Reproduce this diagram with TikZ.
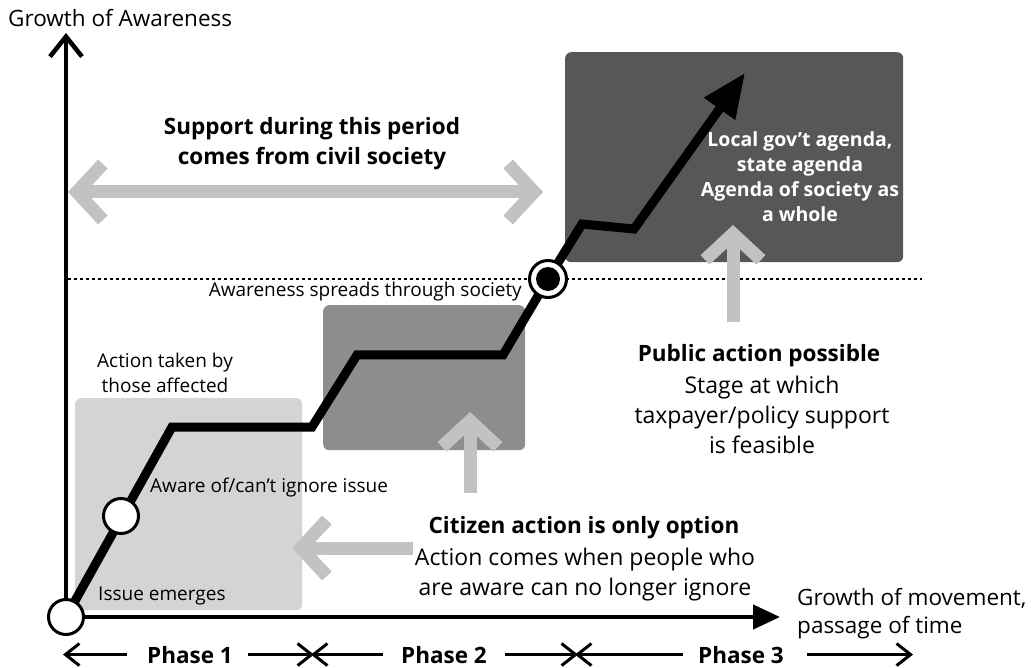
\documentclass[tikz,border=0pt]{standalone}
\usepackage{fontspec}
\setmainfont{Open Sans}
\usetikzlibrary{arrows.meta,positioning}
\definecolor{awlight}{RGB}{212,212,212}
\definecolor{awmid}{RGB}{141,141,141}
\definecolor{awdark}{RGB}{87,87,87}
\definecolor{awarrow}{RGB}{194,194,194}

\begin{document}
\begin{tikzpicture}[x=1pt, y=-1pt,
    stagebox/.style={rectangle, rounded corners=6pt, anchor=north west, inner sep=0pt},
    axisline/.style={line width=4.5pt},
    growth/.style={line width=9pt, line join=miter, -{Triangle[length=44pt, width=36pt]}},
    garr/.style={draw=awarrow, line width=13pt, >={Straight Barb[sharp, length=26pt, width=56pt]}},
    phasearr/.style={line width=3pt, ->, >={Straight Barb[length=14pt, width=22pt]}},
    smalltxt/.style={font=\fontsize{19}{25}\selectfont, inner sep=0pt, align=center},
    bodytxt/.style={font=\fontsize{23}{30}\selectfont, inner sep=0pt, align=center},
    headtxt/.style={font=\fontsize{22.5}{30}\selectfont\bfseries, inner sep=0pt, align=center},
    milestone/.style={circle, draw, line width=3pt, fill=white, minimum size=35pt, inner sep=0pt}
  ]
    \useasboundingbox (0,0) rectangle (1031,668);

    % Stage boxes
    \node[stagebox, fill=awlight, minimum width=227pt, minimum height=212pt] (stage1) at (75,398) {};
    \node[stagebox, fill=awmid,   minimum width=202pt, minimum height=145pt] (stage2) at (323,305) {};
    \node[stagebox, fill=awdark,  minimum width=338pt, minimum height=210pt] (stage3) at (565,52) {};

    % Threshold line
    \coordinate (thr0) at (68,279);
    \coordinate (thr1) at (922,279);
    \draw[line width=1.8pt, dash pattern=on 3pt off 3pt] (thr0) -- (thr1);

    % Path points
    \coordinate (p0) at (66,617);
    \coordinate (p1) at (172,427);
    \coordinate (p2) at (312,427);
    \coordinate (p3) at (357,355);
    \coordinate (p4) at (503,355);
    \coordinate (p5) at (548,279);
    \coordinate (p6) at (582,224);
    \coordinate (p7) at (634,229);
    \coordinate (tip) at (745,73);
    \coordinate (ytip) at (66,33);
    \coordinate (xtip) at (780,617);

    % Axes
    \draw[axisline, -{Straight Barb[length=20pt, width=32pt]}] (p0) -- (ytip);
    \draw[axisline, -{Triangle[length=27pt, width=24pt]}] (p0) -- (xtip);

    % Grey arrows
    \coordinate (civL) at (68,192);
    \coordinate (civR) at (543,192);
    \draw[garr, <->] (civL) -- (civR);
    \coordinate (pubTail) at (733,322);
    \coordinate (pubTip) at (733,225);
    \draw[garr, ->] (pubTail) -- (pubTip);
    \coordinate (citUpTail) at (470,493);
    \coordinate (citUpTip) at (470,412);
    \draw[garr, ->] (citUpTail) -- (citUpTip);
    \coordinate (citLTail) at (413,548);
    \coordinate (citLTip) at (292,548);
    \draw[garr, ->] (citLTail) -- (citLTip);

    % Growth path
    \draw[growth] (p0) -- (p1) -- (p2) -- (p3) -- (p4) -- (p5) -- (p6) -- (p7) -- (tip);

    % Milestones
    \node[milestone] (emerge) at (p0) {};
    \node[milestone] (aware) at (121,516) {};
    \node[milestone, minimum size=37pt] (spread) at (p5) {};
    \node[circle, fill=black, minimum size=24pt, inner sep=0pt] (spreadDot) at (p5) {};

    % Labels (base = last line)
    \node[font=\fontsize{22.5}{25}\selectfont, inner sep=0pt, anchor=base west] (yLbl) at (8,27) {Growth of Awareness};
    \node[font=\fontsize{22.5}{28}\selectfont, inner sep=0pt, align=left, anchor=base west] (xLbl) at (797,633)
      {Growth of movement,\\passage of time};
    \node[smalltxt, anchor=base] (affected) at (165,392) {Action taken by\\those affected};
    \node[smalltxt, anchor=base west] (awareLbl) at (150,492) {Aware of/can’t ignore issue};
    \node[smalltxt, anchor=base west] (emergeLbl) at (98,600) {Issue emerges};
    \node[smalltxt, anchor=base east] (spreadLbl) at (522,297) {Awareness spreads through society};
    \node[headtxt, anchor=base] (civil) at (312,165) {Support during this period\\comes from civil society};
    \node[headtxt, anchor=base] (citizen) at (584,533) {Citizen action is only option};
    \node[bodytxt, anchor=base] (citizenTxt) at (585,595) {Action comes when people who\\are aware can no longer ignore};
    \node[headtxt, anchor=base] (public) at (759,362) {Public action possible};
    \node[bodytxt, anchor=base] (publicTxt) at (762,453) {Stage at which\\taxpayer/policy support\\is feasible};
    \node[font=\fontsize{19.5}{25}\selectfont\bfseries, text=white, align=center, inner sep=0pt, anchor=base] (agenda) at (800,222)
      {Local gov’t agenda,\\state agenda\\Agenda of society as\\a whole};

    % Phases
    \node[headtxt, anchor=base] (phase1) at (190,663) {Phase 1};
    \node[headtxt, anchor=base] (phase2) at (444,663) {Phase 2};
    \node[headtxt, anchor=base] (phase3) at (741,663) {Phase 3};
    \coordinate (b0) at (63,652);
    \coordinate (b1r) at (314,652);
    \coordinate (b1l) at (311,652);
    \coordinate (b2r) at (578,652);
    \coordinate (b2l) at (575,652);
    \coordinate (b3) at (913,652);
    \draw[phasearr] ([xshift=-20pt]phase1.west) -- (b0 |- phase1.west);
    \draw[phasearr] ([xshift=15pt]phase1.east) -- (b1r |- phase1.east);
    \draw[phasearr] ([xshift=-18pt]phase2.west) -- (b1l |- phase2.west);
    \draw[phasearr] ([xshift=18pt]phase2.east) -- (b2r |- phase2.east);
    \draw[phasearr] ([xshift=-15pt]phase3.west) -- (b2l |- phase3.west);
    \draw[phasearr] ([xshift=23pt]phase3.east) -- (b3 |- phase3.east);
  \end{tikzpicture}
\end{document}
